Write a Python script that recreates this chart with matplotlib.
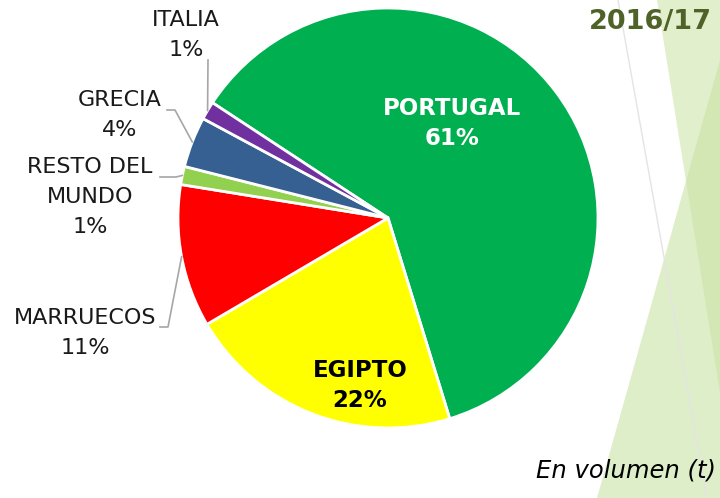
import numpy as np
import matplotlib.pyplot as plt
from matplotlib.patches import Polygon

# origen de las importaciones 2016/17, en volumen
countries = ["PORTUGAL", "EGIPTO", "MARRUECOS", "RESTO DEL\nMUNDO", "GRECIA", "ITALIA"]
shares = [61.0, 21.3, 11.0, 1.4, 3.9, 1.4]
pct_labels = ["61%", "22%", "11%", "1%", "4%", "1%"]
colors = ["#00B050", "#FFFF00", "#FF0000", "#92D050", "#376092", "#7030A0"]

W, H = 720, 498
cx, cy, R = 388, H - 218, 210

fig = plt.figure(figsize=(7.2, 4.98), dpi=100)
ax = fig.add_axes([0, 0, 1, 1])

# decorative background triangles (slide template)
ax.add_patch(Polygon([(657, H), (720, H), (720, H - 393)], closed=True,
                     facecolor="#C9E3A4", alpha=0.55, edgecolor="none", zorder=0))
ax.add_patch(Polygon([(597, 0), (720, H - 60), (720, 0)], closed=True,
                     facecolor="#C9E3A4", alpha=0.6, edgecolor="none", zorder=0))
ax.plot([618, 707], [H, 0], color="#E4E4E4", lw=1, zorder=0)

wedges, _ = ax.pie(shares, colors=colors, startangle=146.7, counterclock=False,
                   center=(cx, cy), radius=R,
                   wedgeprops=dict(edgecolor="white", linewidth=2))

font = "DejaVu Sans"
# inside labels
ax.text(452, H - 108, countries[0], ha="center", va="center", color="white",
        fontsize=16.5, fontweight="bold", family=font)
ax.text(452, H - 138, pct_labels[0], ha="center", va="center", color="white",
        fontsize=16.5, fontweight="bold", family=font)
ax.text(360, H - 370, countries[1], ha="center", va="center", color="black",
        fontsize=16.5, fontweight="bold", family=font)
ax.text(360, H - 400, pct_labels[1], ha="center", va="center", color="black",
        fontsize=16.5, fontweight="bold", family=font)

# outside labels: text position and leader line knee
outside = {
    2: ((85, 333), [(160, 327), (168, 327)]),
    3: ((90, 197), [(160, 177), (176, 177)]),
    4: ((120, 115), [(167, 110), (175, 110)]),
    5: ((186, 35), [(208, 60)]),
}
for i, ((tx, ty), knee) in outside.items():
    ax.text(tx, H - ty, countries[i] + "\n" + pct_labels[i], ha="center", va="center",
            fontsize=16, color="#1A1A1A", family=font, linespacing=1.6)
    w = wedges[i]
    mid = np.deg2rad((w.theta1 + w.theta2) / 2)
    ex, ey = cx + R * np.cos(mid), cy + R * np.sin(mid)
    xs = [p[0] for p in knee] + [ex]
    ys = [H - p[1] for p in knee] + [ey]
    ax.plot(xs, ys, color="#A6A6A6", lw=1.2, zorder=1)

ax.text(712, H - 22, "2016/17", ha="right", va="center", color="#4F6228",
        fontsize=19.5, fontweight="bold", family=font)
ax.text(716, H - 470, "En volumen (t)", ha="right", va="center", color="black",
        fontsize=17.5, style="italic", family=font)

ax.set_xlim(0, W)
ax.set_ylim(0, H)
ax.set_aspect("auto")
ax.axis("off")
fig.savefig("out.png", dpi=100)
